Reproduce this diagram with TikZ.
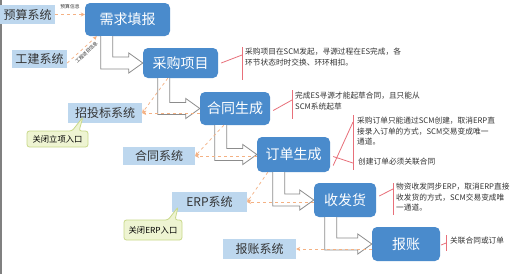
\documentclass[tikz,border=0pt]{standalone}
\usepackage{fontspec}
\setmainfont{Noto Sans CJK SC}
\usetikzlibrary{arrows.meta,calc}
\definecolor{boxblue}{HTML}{4A8BCC}
\definecolor{sysblue}{HTML}{BDD7EE}
\definecolor{systext}{HTML}{333333}
\definecolor{flowgray}{HTML}{8C8C8C}
\definecolor{dashor}{HTML}{F4B183}
\definecolor{brred}{HTML}{E8707A}
\definecolor{callfill}{HTML}{EEF4D2}
\definecolor{calldraw}{HTML}{C9D98A}
\newcommand\flowarr[3]{% #1 from node, #2 to node, #3 x offset
  \draw[flow] let \p1=(#1.south west), \p2=(#2.west) in
    (\x1+#3,\y1) -- (\x1+#3,\y2-6pt) -- (\x2-14pt,\y2-6pt) -- (\x2-14pt,\y2-10pt)
    -- (\x2,\y2) -- (\x2-14pt,\y2+10pt) -- (\x2-14pt,\y2+6pt)
    -- (\x1+#3+12pt,\y2+6pt) -- (\x1+#3+12pt,\y1);}
\tikzset{
  stage/.style={draw=none, fill=boxblue, rounded corners=5pt, text=white,
    font=\fontsize{14}{16}\selectfont, inner sep=0pt, align=center},
  sys/.style={fill=sysblue, text=systext, inner sep=0pt,
    font=\fontsize{12}{14}\selectfont},
  flow/.style={draw=flowgray, fill=white, line width=0.8pt},
  dashconn/.style={draw=dashor, dashed, line width=0.7pt,
    -{Stealth[length=4pt,width=4pt]}},
  note/.style={anchor=north west, inner sep=0pt, align=left, text=systext,
    font=\fontsize{7.7}{10.5}\selectfont},
  brk/.style={draw=brred, line width=0.8pt},
  callbox/.style={fill=callfill, draw=calldraw, line width=0.8pt, rounded corners=2.5pt},
  calltext/.style={inner sep=0pt, text=black, font=\fontsize{8.3}{10}\selectfont},
  lbl/.style={inner sep=0pt, text=systext, font=\fontsize{4.8}{5}\selectfont}
}
\begin{document}
\begin{tikzpicture}[x=1pt,y=-1pt]
\useasboundingbox (0,0) rectangle (516,274);
\fill[white] (0,0) rectangle (516,274);
\draw[gray, line width=1.6pt] (0.8,0) -- (0.8,274);

% system boxes
\node[sys, minimum width=55pt, minimum height=19pt] (budget) at (27.5,14.5) {预算系统};
\node[sys, minimum width=55pt, minimum height=18pt] (build) at (39.5,59) {工建系统};
\node[sys, minimum width=74pt, minimum height=20pt] (bid) at (105,113) {招投标系统};
\node[sys, minimum width=72pt, minimum height=18pt] (csys) at (159,156) {合同系统};
\node[sys, minimum width=75pt, minimum height=20pt] (erp) at (209.5,202) {ERP系统};
\node[sys, minimum width=73pt, minimum height=20pt] (rsys) at (259.5,249) {报账系统};

% stage boxes
\node[stage, minimum width=85pt, minimum height=33pt] (need) at (127.5,19.5) {需求填报};
\node[stage, minimum width=75pt, minimum height=30pt] (proj) at (180.5,63) {采购项目};
\node[stage, minimum width=70pt, minimum height=33pt] (contr) at (235,108.5) {合同生成};
\node[stage, minimum width=73pt, minimum height=35pt] (order) at (293.5,154.5) {订单生成};
\node[stage, minimum width=62pt, minimum height=34pt] (recv) at (345,200) {收发货};
\node[stage, minimum width=68pt, minimum height=34pt] (reimb) at (406,244) {报账};

% flow arrows
\flowarr{need}{proj}{16pt}
\flowarr{proj}{contr}{15pt}
\flowarr{contr}{order}{15pt}
\flowarr{order}{recv}{16pt}
\flowarr{recv}{reimb}{11pt}

% dashed info connectors
\draw[dashconn] (budget.east) -- (need.west |- budget.east);
\node[lbl] (lbudget) at (70,7) {预算信息};
\draw[dashconn] ([yshift=-4pt]build.east) -- ([xshift=12pt]need.south west);
\node[lbl, rotate=44] (lbuild) at (86.5,52.5) {工程项目信息};
\draw[dashconn] ([xshift=25pt]proj.south west) -- (bid.east);
\draw[dashconn] (contr.west |- bid.east) -- (bid.east);
\draw[dashconn] ([xshift=24pt]contr.south west) -- (csys.east);
\draw[dashconn] (order.west |- csys.east) -- (csys.east);
\draw[dashconn] ([xshift=11pt]order.south west) -- (erp.east);
\draw[dashconn] (recv.west |- erp.east) -- (erp.east);
\draw[dashconn] (reimb.west |- rsys.east) -- (rsys.east);

% callouts
\draw[callbox] (27,131) -- (72,131) -- (83,117) -- (79,131) -- (88,131) -- (88,147) -- (27,147) -- cycle;
\node[calltext] (c1) at (57.5,139.5) {关闭立项入口};
\draw[callbox] (124,220) -- (168,220) -- (178,207) -- (175,220) -- (182,220) -- (182,240) -- (124,240) -- cycle;
\node[calltext] (c2) at (153,230.5) {关闭ERP入口};

% annotations
\node[note] (t1) at (245,48) {采购项目在SCM发起，寻源过程在ES完成，各\\环节状态时时交换、环环相扣。};
\draw[brk] (242,47) -- (242,80);
\draw[brk] ([xshift=3pt]proj.east) -- (242,55);

\node[note] (t2) at (295,92) {完成ES寻源才能起草合同，且只能从\\SCM系统起草};
\draw[brk] (292,90) -- (292,119);
\draw[brk] ([xshift=3pt,yshift=-2pt]contr.east) -- (292,100);

\node[note] (t3) at (357,117) {采购订单只能通过SCM创建，取消ERP直\\接录入订单的方式，SCM交易变成唯一\\通道。};
\node[note] (t4) at (358,158) {创建订单必须关联合同};
\draw[brk] (353,115) -- (353,170);
\draw[brk] ([xshift=3pt,yshift=-11pt]order.east) -- (353,122);
\draw[brk] ([xshift=3pt,yshift=-2pt]order.east) -- (353,163);

\node[note] (t5) at (396,183) {物资收发同步ERP，取消ERP直接\\收发货的方式，SCM交易变成唯\\一通道。};
\draw[brk] (393,183) -- (393,215);
\draw[brk] ([xshift=3pt,yshift=4pt]recv.east) -- (393,189);

\node[note] (t6) at (450,237) {关联合同或订单};
\draw[brk] (446,235) -- (446,251);
\draw[brk] ([xshift=1pt,yshift=-1pt]reimb.east) -- (446,243);
\end{tikzpicture}
\end{document}
